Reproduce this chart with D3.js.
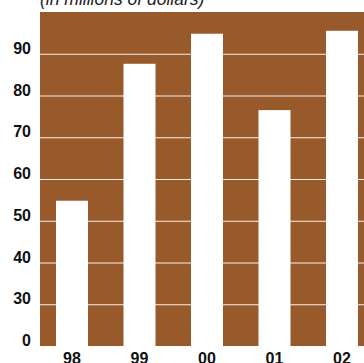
<!DOCTYPE html>
<html>
<head>
<meta charset="utf-8" />
<title>Chart</title>
<script src="https://cdn.jsdelivr.net/npm/d3@7"></script>
<style>
  body { margin: 0; background: #fff; }
  svg { display: block; }
  text { font-family: "Liberation Sans", Arial, Helvetica, sans-serif; }
</style>
</head>
<body>
<div id="chart"></div>
<script>
    // data
    var years = ["98", "99", "00", "01", "02"];
    var values = [54.8, 87.6, 94.8, 76.5, 95.5];
    // broken axis: the bottom line (20 on the scale) is labelled 0
    var tickValues = [20, 30, 40, 50, 60, 70, 80, 90];
    var tickLabels = ["0", "30", "40", "50", "60", "70", "80", "90"];
    var title = "(in millions of dollars)";

    var w = 364;
    var h = 363;
    var plotLeft = 40, plotRight = 374, plotTop = 12, plotBottom = 346;
    var brown = "#995a2b";

    var svg = d3.select("#chart")
        .append("svg")
        .attr("width", w)
        .attr("height", h);

    var x = d3.scaleBand()
        .domain(years)
        .range([plotLeft, plotRight])
        .paddingInner(0.526)
        .paddingOuter(0.237);

    var y = d3.scaleLinear()
        .domain([20, 100])
        .range([plotBottom, plotTop]);

    // brown background
    svg.append("rect")
        .attr("x", plotLeft)
        .attr("y", y(100))
        .attr("width", w - plotLeft)
        .attr("height", y(20) - y(100))
        .attr("fill", brown);

    // grid lines
    svg.selectAll("line.grid")
        .data(tickValues.slice(1))
        .enter()
        .append("line")
        .attr("class", "grid")
        .attr("x1", plotLeft)
        .attr("x2", w)
        .attr("y1", function (d) { return y(d) + 0.5; })
        .attr("y2", function (d) { return y(d) + 0.5; })
        .attr("stroke", "#fff")
        .attr("stroke-opacity", 0.9)
        .attr("stroke-width", 1);

    // white bars
    svg.selectAll("rect.bar")
        .data(values)
        .enter()
        .append("rect")
        .attr("class", "bar")
        .attr("x", function (d, i) { return x(years[i]); })
        .attr("y", function (d) { return y(d); })
        .attr("width", x.bandwidth())
        .attr("height", function (d) { return y(20) - y(d); })
        .attr("fill", "#fff");

    // y labels
    svg.selectAll("text.y")
        .data(tickValues)
        .enter()
        .append("text")
        .attr("class", "y")
        .text(function (d, i) { return tickLabels[i]; })
        .attr("x", 31)
        .attr("y", function (d) { return y(d); })
        .attr("text-anchor", "end")
        .attr("font-size", "16px")
        .attr("font-weight", "bold")
        .attr("fill", "#111");

    // x labels
    svg.selectAll("text.x")
        .data(years)
        .enter()
        .append("text")
        .attr("class", "x")
        .text(function (d) { return d; })
        .attr("x", function (d) { return x(d) + x.bandwidth() / 2; })
        .attr("y", 364)
        .attr("text-anchor", "middle")
        .attr("font-size", "16px")
        .attr("font-weight", "bold")
        .attr("fill", "#111");

    svg.append("text")
        .text(title)
        .attr("x", 40)
        .attr("y", 5)
        .attr("font-size", "17.5px")
        .attr("font-style", "italic")
        .attr("fill", "#222");
</script>
</body>
</html>
